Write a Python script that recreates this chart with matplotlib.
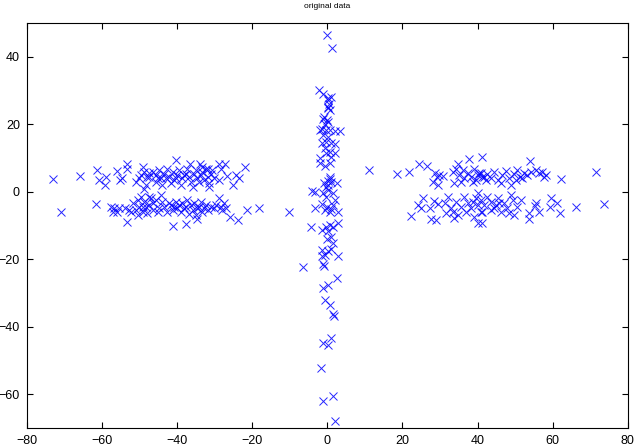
import matplotlib
matplotlib.use('Agg')
import matplotlib.pyplot as plt

# Left cluster (two horizontal bands around y=+4 and y=-5)
left_x = [-73.1, -65.9, -71.0, -61.4, -61.7, -58.9, -60.7, -59.3, -56.0, -54.8,
          -55.2, -53.3, -53.3, -53.3, -57.6, -56.7, -56.0, -57.1, -55.4, -54.0,
          -52.9, -49.2, -48.7, -49.6, -47.9, -50.9, -50.1, -48.3, -48.7, -47.4,
          -51.8, -50.5, -49.6, -48.7, -50.1, -51.0, -49.2, -48.3, -47.0, -47.4,
          -52.3, -50.5, -49.2, -47.9, -46.5,
          -47.4, -46.5, -45.6, -44.8, -44.3, -43.4, -42.6, -42.1, -41.2, -40.8,
          -39.9, -39.5, -38.6, -37.7, -37.3, -36.8, -36.4, -35.5, -35.0, -34.6,
          -33.7, -33.3, -32.8, -32.4, -31.9, -31.5, -31.1, -30.6, -30.2, -45.6,
          -43.9, -41.7, -39.0, -35.9, -31.5, -43.0, -38.1, -34.2, -45.2, -40.3,
          -40.2, -36.6, -34.0, -33.3, -31.7, -28.9, -27.3, -28.4, -22.0, -24.3,
          -23.4, -25.1, -26.7, -28.9,
          -47.4, -46.5, -45.6, -44.8, -43.9, -43.4, -42.6, -42.1, -41.7, -41.2,
          -40.8, -40.3, -39.9, -39.5, -39.0, -38.6, -38.1, -37.7, -37.3, -36.8,
          -36.4, -35.9, -35.5, -35.0, -34.6, -34.2, -33.7, -33.3, -32.8, -32.4,
          -31.9, -31.1, -30.2, -29.7, -28.9, -28.4, -28.0, -27.5, -27.1, -26.0,
          -23.8, -21.3, -18.3, -41.2, -37.7, -34.6, -45.2, -44.3]
left_y = [3.8, 4.6, -6.0, 6.4, -3.7, 4.4, 3.4, 2.1, 6.0, 4.1,
          3.5, 8.3, 6.8, -8.9, -4.5, -5.0, -6.0, -6.0, -5.0, -5.0,
          -5.5, 7.3, 5.8, 4.9, 4.4, 2.9, 3.9, 1.9, 0.9, 5.4,
          -3.5, -2.5, -1.5, -3.0, -4.5, -5.5, -6.0, -4.5, -2.0, -4.0,
          -6.0, -6.9, -4.5, -6.4, -5.5,
          4.4, 5.8, 4.9, 6.3, 3.9, 5.3, 6.8, 4.4, 5.8, 3.4,
          4.9, 6.3, 3.9, 5.3, 6.8, 4.4, 2.9, 5.3, 6.3, 3.9,
          4.9, 5.8, 3.4, 6.8, 4.4, 2.4, 5.3, 6.3, 3.9, 2.9,
          1.9, 2.4, 1.9, 1.4, 1.4, 3.9, 4.9, 2.9, 3.9, 3.9,
          9.3, 8.1, 8.3, 7.3, 6.8, 8.3, 8.1, 6.8, 7.3, 4.9,
          3.9, 2.1, 4.7, 3.4,
          -1.5, -3.5, -2.5, -5.0, -3.0, -4.5, -6.0, -3.5, -4.0, -5.5,
          -4.5, -3.0, -5.0, -4.0, -6.0, -3.5, -5.0, -4.5, -2.5, -6.5,
          -4.0, -5.5, -3.5, -7.0, -5.0, -4.5, -3.0, -6.0, -5.0, -4.0,
          -5.5, -4.5, -5.0, -4.0, -2.0, -4.5, -5.5, -3.5, -5.0, -7.4,
          -8.4, -5.5, -4.8, -10.2, -9.7, -8.1, -6.0, -1.0]

# Central vertical cluster
center_x = [-0.2, 1.15, -2.2, -1.1, 0.3, 1.0, 0.1, 0.4, 0.1, 0.7,
            0.3, -0.8, -0.2, -0.6, 0.1, -1.1, -1.5, -0.4, 0.7, 2.0,
            3.4, -1.9, -1.1, 0.1, -0.4, -1.5, 1.0, 2.0, -0.6, 0.7,
            2.0, -0.4, -1.9, 1.1,
            -1.9, 0.7, -0.6, 0.7, 0.1, -0.8, 1.1, 0.3, -0.4, 2.5,
            0.7, -4.2, -3.3, -1.1, 0.3, 1.6, -0.4, -10.3, -3.4, -1.3,
            -0.2, 1.1, 2.0, 0.7, 2.7, -0.6, 1.6,
            -4.3, -1.5, -0.4, 0.7, 1.6, 2.9, 0.3, 1.1, -0.2, 1.6,
            -1.5, 0.3, 1.0, -0.6, 2.7, -1.3, -6.4, -1.1, -0.8,
            2.5, 0.3, -1.2, -0.6, 0.7, 1.6, 1.9, 1.1, -1.2, 0.1,
            -1.8, 1.6, -1.1, 2.0]
center_y = [46.3, 42.5, 30.2, 29.0, 27.8, 28.0, 27.0, 26.0, 24.8, 24.2,
            25.2, 22.1, 21.1, 20.1, 20.5, 21.6, 18.6, 18.2, 18.2, 18.0,
            18.0, 18.2, 16.7, 16.2, 14.7, 14.4, 14.4, 14.2, 13.0, 11.8,
            11.5, 11.3, 10.1, 10.3,
            8.5, 8.5, 7.5, 4.4, 3.2, 2.4, 2.9, 1.9, 1.4, 2.6,
            3.6, 0.2, -0.05, -0.5, 0.4, -0.5, -1.5, -6.0, -5.0, -3.7,
            -4.5, -5.3, -2.5, -6.0, -6.0, -5.5, -4.0,
            -10.6, -11.4, -10.4, -9.9, -10.4, -9.4, -11.8, -13.5, -14.1, -15.3,
            -17.4, -17.7, -17.1, -18.7, -19.2, -19.0, -22.2, -21.4, -22.0,
            -25.6, -27.6, -28.6, -32.2, -33.5, -36.4, -36.9, -43.3, -44.8, -45.6,
            -52.4, -60.5, -62.0, -67.9]

# Right cluster (mirrors the left one)
right_x = [11.0, 18.6, 21.7, 24.3, 26.5, 28.7, 29.2, 29.8, 28.1, 29.4,
           30.7, 34.7, 37.8, 41.3, 33.4, 34.3, 35.1, 36.0, 36.5, 37.4,
           38.2, 39.1, 39.6, 40.4, 41.1, 33.8, 35.6, 38.7,
           25.4, 24.1, 24.8, 22.3, 27.2, 27.5, 29.0, 28.5, 29.4,
           31.2, 32.1, 32.9, 33.4, 34.3, 34.7, 35.6, 36.3, 36.9, 37.4,
           38.2, 39.1, 39.6, 40.0, 40.9, 41.1, 31.6, 33.8, 38.7,
           53.9, 71.5, 62.3,
           40.0, 40.9, 41.8, 42.6, 43.5, 44.4, 45.3, 46.6, 47.5, 48.4,
           49.7, 50.6, 51.3, 52.4, 53.2, 54.1, 55.5, 56.3, 57.2, 57.7,
           58.1, 46.2, 48.8, 42.2, 50.2, 51.9,
           40.0, 40.9, 41.8, 42.6, 43.5, 44.4, 45.3, 46.2, 47.1, 47.9,
           48.8, 49.3, 49.7, 50.6, 51.5, 40.0, 41.3, 44.9, 48.4, 43.5,
           45.7,
           53.7, 53.7, 55.5, 55.2, 56.3, 59.6, 59.2, 61.2, 61.9, 66.3,
           73.6]
right_y = [6.5, 5.1, 5.7, 8.3, 7.5, 5.4, 4.4, 4.9, 2.9, 2.1,
           4.7, 8.3, 9.6, 10.3, 5.9, 6.8, 4.9, 6.4, 3.9, 5.4,
           4.4, 6.8, 3.4, 5.4, 4.4, 2.4, 2.9, 2.7,
           -1.8, -4.0, -5.0, -7.1, -4.8, -8.1, -8.4, -2.8, -3.8,
           -3.5, -1.5, -5.0, -6.0, -3.0, -7.0, -4.5, -1.5, -6.0, -3.5,
           -5.0, -7.4, -2.0, -4.0, -6.0, -9.4, -6.4, -7.9, -3.0,
           9.0, 5.9, 3.7,
           4.9, 5.4, 4.4, 5.1, 3.9, 5.9, 3.4, 4.9, 6.1, 3.9,
           5.1, 6.3, 4.4, 5.4, 4.9, 5.7, 6.3, 5.4, 5.9, 4.4,
           4.9, 2.4, 1.9, 3.4, 3.4, 3.9,
           -0.5, -2.5, -4.0, -1.5, -3.0, -5.0, -2.0, -6.0, -3.5, -5.0,
           -1.0, -2.5, -7.0, -4.5, -2.5, -9.4, -6.0, -4.0, -6.4, -5.5,
           -3.5,
           -6.4, -8.1, -3.5, -4.2, -6.0, -2.0, -4.5, -3.5, -6.4, -4.5,
           -3.8]

plt.rcParams['font.family'] = ['Liberation Sans', 'DejaVu Sans']

fig = plt.figure(figsize=(6.4, 4.48), dpi=100)
ax = fig.add_axes([0.042, 0.045, 0.939, 0.904])

for xs, ys in [(left_x, left_y), (center_x, center_y), (right_x, right_y)]:
    ax.plot(xs, ys, linestyle='none', marker='x', color='#0000ff',
            markersize=5.5, markeredgewidth=0.7, alpha=0.85)

ax.set_xlim(-80, 80)
ax.set_ylim(-70, 50)
ax.set_xticks(range(-80, 81, 20))
ax.set_yticks(range(-60, 41, 20))
ax.tick_params(direction='in', length=4, width=0.8, labelsize=9,
               top=True, right=True, pad=5)
for s in ax.spines.values():
    s.set_linewidth(0.8)

ax.set_title('original data', fontsize=6, pad=11)

fig.savefig('out.png', dpi=100)
